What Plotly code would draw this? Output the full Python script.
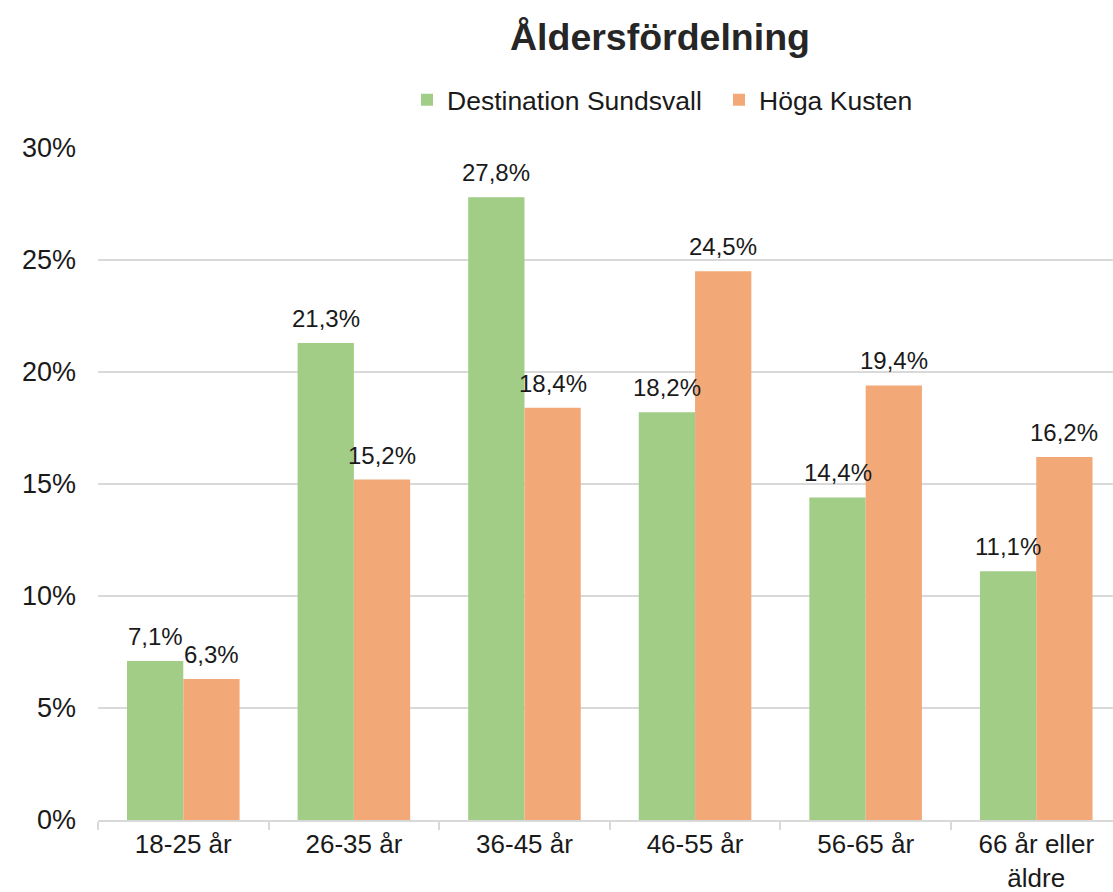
import plotly.graph_objects as go

categories = ["18-25 år", "26-35 år", "36-45 år", "46-55 år", "56-65 år", "66 år eller<br>äldre"]
sundsvall = [7.1, 21.3, 27.8, 18.2, 14.4, 11.1]
hoga_kusten = [6.3, 15.2, 18.4, 24.5, 19.4, 16.2]
y_ticks = [0, 5, 10, 15, 20, 25, 30]

FONT = "Liberation Sans, Arial, sans-serif"
TXT = "#1a1a1a"
BARGAP = 0.34

def fmt(v):
    return f"{v:.1f}".replace(".", ",") + "%"

fig = go.Figure()
fig.add_trace(go.Bar(
    name="Destination Sundsvall", x=categories, y=sundsvall,
    marker=dict(color="#A2CD86", line=dict(width=0)),
))
fig.add_trace(go.Bar(
    name="Höga Kusten", x=categories, y=hoga_kusten,
    marker=dict(color="#F2A977", line=dict(width=0)),
))

# data labels above each bar, positioned from the data via axis coordinates
half = (1 - BARGAP) / 4
for series, off in ((sundsvall, -half), (hoga_kusten, half)):
    for i, v in enumerate(series):
        fig.add_annotation(x=i + off, y=v, xref="x", yref="y", text=fmt(v),
                           showarrow=False, yanchor="bottom", xanchor="center", yshift=9,
                           font=dict(size=24, color=TXT, family=FONT))

fig.update_layout(
    width=1113, height=892,
    margin=dict(l=98, r=0, t=148, b=72),
    paper_bgcolor="white", plot_bgcolor="white",
    font=dict(family=FONT, size=26, color=TXT),
    barmode="group", bargap=BARGAP, bargroupgap=0,
    title=dict(text="<b>Åldersfördelning</b>", font=dict(size=37.5, color="#262626", family=FONT),
               x=660/1113, xref="container", xanchor="center",
               y=1 - 37/892, yref="container", yanchor="middle", pad=dict(t=0, b=0, l=0, r=0)),
    legend=dict(orientation="h", x=(407 - 98) / 1015, xanchor="left", y=1.0714, yanchor="middle",
                font=dict(size=26.5, color=TXT), itemwidth=30, entrywidth=267,
                bgcolor="rgba(0,0,0,0)"),
    showlegend=True,
)
fig.update_xaxes(
    range=[-0.5, 5.45], showline=True, linecolor="#d9d9d9", linewidth=1.5,
    ticks="outside", tickson="boundaries", tickcolor="#d9d9d9", ticklen=8, tickwidth=1.5,
    showgrid=False, tickfont=dict(size=26, color=TXT), automargin=False,
)
fig.update_yaxes(
    range=[0, 30], tickvals=y_ticks, ticktext=[f"{v}%" for v in y_ticks],
    showgrid=True, gridcolor="#d9d9d9", gridwidth=1.5, zeroline=False, showline=False,
    tickfont=dict(size=27, color=TXT), ticklabelstandoff=21, automargin=False,
)

fig.write_html(
    "out.html",
    config={"displayModeBar": False},
    post_script="document.body.style.margin='0';document.body.style.padding='0';"
                "document.body.style.overflow='hidden';",
)
